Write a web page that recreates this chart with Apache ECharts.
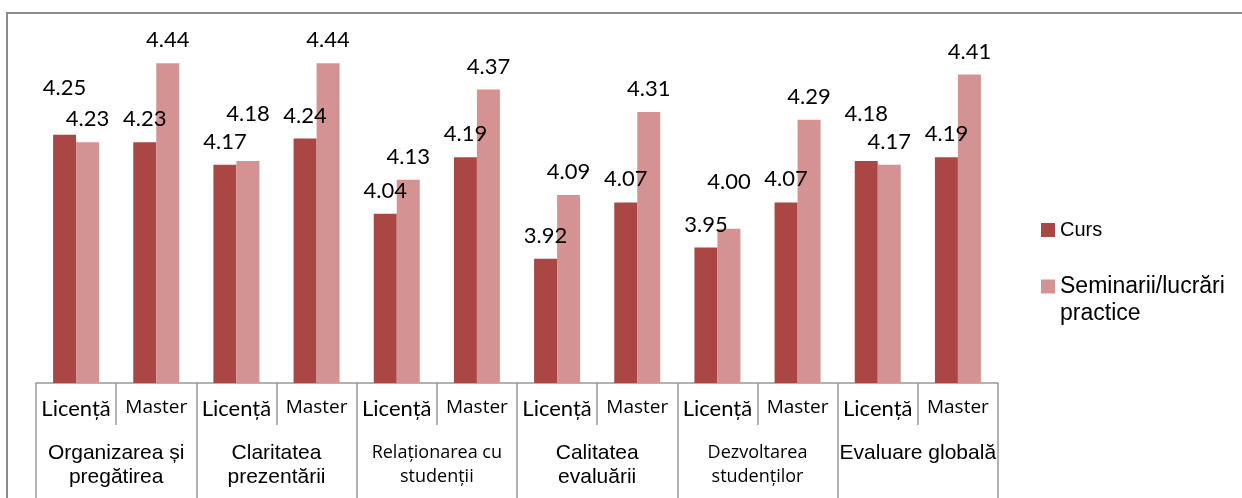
<!DOCTYPE html>
<html>
<head>
<meta charset="utf-8">
<script src="https://cdn.jsdelivr.net/npm/echarts@6/dist/echarts.min.js"></script>
<style>
  html, body { margin: 0; padding: 0; background: #fff; }
  #chart { width: 1242px; height: 498px; }
</style>
</head>
<body>
<div id="chart"></div>
<script>
// data
const levels = ['Licență', 'Master', 'Licență', 'Master', 'Licență', 'Master',
                'Licență', 'Master', 'Licență', 'Master', 'Licență', 'Master'];
const groups = ['Organizarea și\npregătirea', 'Claritatea\nprezentării', 'Relaționarea cu\nstudenții',
                'Calitatea\nevaluării', 'Dezvoltarea\nstudenților', 'Evaluare globală'];
const curs = [4.25, 4.23, 4.17, 4.24, 4.04, 4.19, 3.92, 4.07, 3.95, 4.07, 4.18, 4.19];
const seminarii = [4.23, 4.44, 4.18, 4.44, 4.13, 4.37, 4.09, 4.31, 4.00, 4.29, 4.17, 4.41];

// labels that were pushed up in the original to avoid overlapping
const liftedCurs = [0, 10];
const liftedSem = [2, 8];

const RED = '#AA4744';
const PINK = '#D49392';
const AXIS = '#999999';

let myChart = echarts.init(document.getElementById('chart'));

function barData(values, lifted) {
  return values.map((v, i) => ({
    value: v,
    label: { distance: lifted.indexOf(i) >= 0 ? 36 : 12 }
  }));
}

const smallGroups = [2, 4]; // set in a smaller, different font in the original

const valueLabel = {
  show: true, position: 'top', color: '#000',
  fontFamily: 'Lato', fontSize: 22,
  formatter: p => p.value.toFixed(2)
};

myChart.setOption({
  animation: false,
  graphic: [{
    type: 'rect',
    shape: { x: 7, y: 13, width: 1400, height: 700 },
    style: { fill: 'none', stroke: '#8c8c8c', lineWidth: 2 },
    silent: true
  }],
  legend: [{
    orient: 'vertical',
    left: 1036,
    top: 215,
    itemWidth: 14,
    itemHeight: 14,
    icon: 'rect',
    data: ['Curs'],
    textStyle: { fontFamily: 'Liberation Sans', fontSize: 20, color: '#000' }
  }, {
    orient: 'vertical',
    left: 1036,
    top: 243,
    itemWidth: 14,
    itemHeight: 14,
    icon: 'rect',
    data: ['Seminarii/lucrări practice'],
    // empty first line so the square sits beside the first line of text
    formatter: name => '{t| }\n{t|' + name.replace(' ', '}\n{t|') + '}',
    textStyle: {
      color: '#000',
      rich: { t: { fontFamily: 'Liberation Sans', fontSize: 23, color: '#000', lineHeight: 27 } }
    }
  }],
  grid: { left: 36, right: 244, top: 3, bottom: 115 },
  xAxis: [{
    type: 'category',
    data: levels,
    axisLine: { lineStyle: { color: AXIS, width: 1.5 } },
    axisTick: { show: true, interval: 0, length: 42, lineStyle: { color: AXIS, width: 1.5 } },
    axisLabel: {
      interval: 0,
      margin: 15,
      formatter: v => v === 'Master' ? '{m|' + v + '}' : '{l|' + v + '}',
      rich: {
        l: { fontFamily: 'Lato', fontSize: 22, color: '#000' },
        m: { fontFamily: 'Open Sans', fontSize: 19, color: '#000' }
      }
    }
  }, {
    type: 'category',
    data: groups,
    position: 'bottom',
    axisLine: { show: false },
    axisTick: { show: true, interval: 0, length: 130, lineStyle: { color: AXIS, width: 1.5 } },
    axisLabel: {
      interval: 0,
      margin: 58,
      formatter: (v, i) => v.split('\n').map(s => smallGroups.indexOf(i) >= 0 ? '{s|' + s + '}' : '{a|' + s + '}').join('\n'),
      rich: {
        a: { fontFamily: 'Liberation Sans', fontSize: 21, color: '#000', lineHeight: 24 },
        s: { fontFamily: 'Open Sans', fontSize: 18, color: '#000', lineHeight: 24 }
      }
    }
  }],
  yAxis: {
    type: 'value',
    min: 3.59,
    max: 4.6,
    show: false,
    splitLine: { show: false }
  },
  series: [{
    name: 'Curs',
    type: 'bar',
    xAxisIndex: 0,
    barWidth: 23,
    barGap: 0,
    itemStyle: { color: RED },
    label: valueLabel,
    data: barData(curs, liftedCurs)
  }, {
    name: 'Seminarii/lucrări practice',
    type: 'bar',
    xAxisIndex: 0,
    barWidth: 23,
    barGap: 0,
    itemStyle: { color: PINK },
    label: valueLabel,
    data: barData(seminarii, liftedSem)
  }]
});
</script>
</body>
</html>
